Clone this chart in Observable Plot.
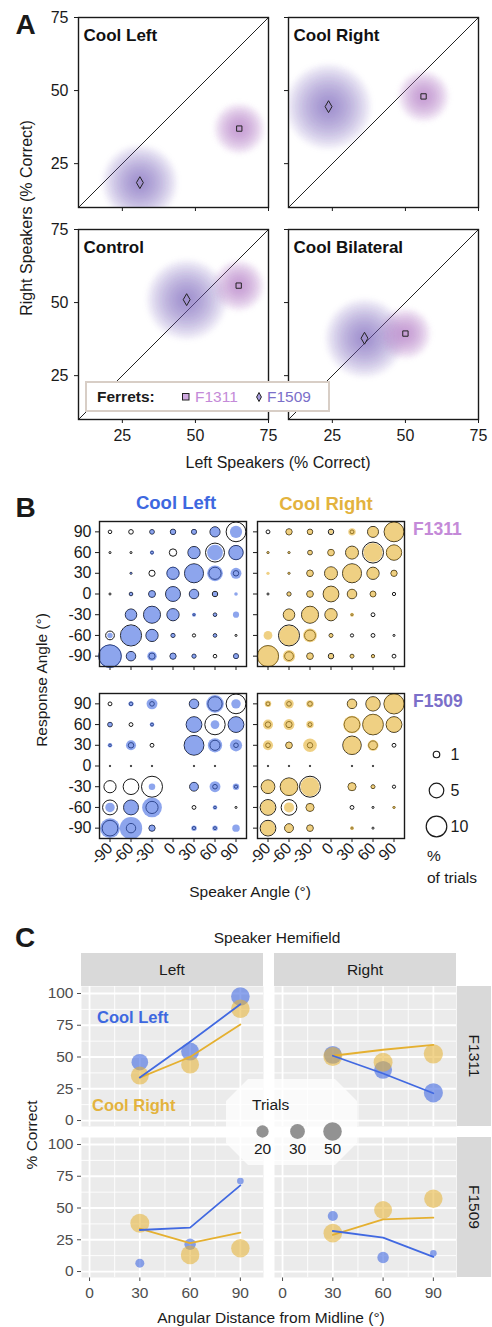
<!DOCTYPE html>
<html><head><meta charset="utf-8">
<script src="https://cdn.jsdelivr.net/npm/d3@7"></script>
<script src="https://cdn.jsdelivr.net/npm/@observablehq/plot@0.6"></script>
<style>
html,body{margin:0;padding:0;background:#fff;}
#root{position:relative;width:492px;height:1327px;overflow:hidden;font-family:"Liberation Sans",Arial,Helvetica,sans-serif;}
#root svg{overflow:visible;max-width:none;}
</style></head><body><div id="root"></div>
<script>
// ================= DATA =================
// ---- Panel A: bootstrapped % correct (left vs right speakers) ----
const conditionsA = ["Cool Left", "Cool Right", "Control", "Cool Bilateral"];
const f1311LeftSpk  = [65.0, 56.2, 64.8, 50.0];
const f1311RightSpk = [37.0, 48.0, 55.8, 39.4];
const f1509LeftSpk  = [31.0, 23.7, 47.0, 36.0];
const f1509RightSpk = [18.5, 44.5, 51.0, 37.8];
const f1311Spread = [2.9, 2.9, 2.9, 2.9];
const f1509Spread = [4.3, 4.9, 4.6, 4.5];
const domainA = [10, 75];
const ticksA = [25, 50, 75];
const ferretNames = ["F1311", "F1509"];

// ---- Panel B: % of trials, rows = response 90..-90, cols = speaker -90..90 ----
const speakerAngles = [-90, -60, -30, 0, 30, 60, 90];
const responseAngles = [90, 60, 30, 0, -30, -60, -90];
const f1311CoolLeft = [
  [0, 0, 0.5, 0.7, 0.6, 2.4, 3.5],
  [0, 0, 0.4, 0, 3.5, 5.8, 5.2],
  [0, 0.1, 0, 3.9, 8.5, 5.8, 2.8],
  [0, 0.3, 1.1, 5.2, 2.1, 0.5, 0.3],
  [0, 3.1, 6.8, 3.5, 0.4, 0.3, 0.9],
  [0.7, 10, 3.5, 0.4, 0, 0.3, 0],
  [13, 2.1, 2.1, 0.9, 0.4, 0, 0.6]];
const f1311CoolLeftCtrl = [
  [0.3, 0.5, 0.5, 0.7, 0.6, 2.4, 9.2],
  [0.1, 0.1, 0.2, 1.3, 3.5, 8.5, 4.8],
  [0, 0.1, 0.9, 3.5, 8.5, 3.5, 0.7],
  [0.1, 0.3, 1.1, 5.2, 2.1, 0.7, 0],
  [0, 3.1, 6.8, 3.5, 0.1, 0.3, 0],
  [1.8, 10.5, 3.5, 0.4, 0.25, 0.3, 0.1],
  [12, 2.1, 0.9, 0.9, 0.4, 0.3, 0.6]];
const f1311CoolRight = [
  [0, 0.9, 0.7, 0.4, 1.3, 2.8, 9.2],
  [0.15, 0.15, 0.5, 1.1, 3.9, 8.5, 5.8],
  [0.25, 0.15, 1.0, 3.9, 8.5, 3.5, 0.9],
  [0, 0.4, 1.0, 5.8, 2.1, 0.8, 0],
  [0, 3.1, 6.8, 3.5, 0.35, 0, 0],
  [1.8, 9.2, 4.4, 0.35, 0, 0, 0],
  [11, 3.5, 1.0, 0.5, 0.35, 0.25, 0]];
const f1311CoolRightCtrl = [
  [0.35, 0.9, 0.7, 0.7, 0.35, 2.8, 9.2],
  [0.1, 0.1, 0.5, 1.0, 3.9, 10.4, 5.5],
  [0, 0.1, 1.0, 3.9, 8.5, 3.5, 0.9],
  [0.1, 0.4, 1.0, 5.8, 2.1, 0.8, 0.25],
  [0, 3.1, 6.8, 3.5, 0.1, 0.35, 0],
  [0, 10.4, 2.8, 0.35, 0.25, 0.35, 0.1],
  [10.5, 1.8, 1.0, 0.7, 0.35, 0.25, 0.35]];
const f1509CoolLeft = [
  [0, 0.6, 2.8, 0, 2.1, 7.3, 2.1],
  [0.5, 0, 0.5, 0, 5.8, 1.8, 5.8],
  [0.5, 2.4, 0, 0, 9.2, 4.8, 3.5],
  [0, 0, 0, 0, 0, 0, 0],
  [0, 0, 1.0, 0, 1.8, 2.8, 1.0],
  [2.1, 5.2, 9.2, 0, 0, 0.5, 0],
  [9.2, 11.8, 0.9, 0, 0.7, 0.7, 1.3]];
const f1509CoolLeftCtrl = [
  [0.35, 0.3, 0.5, 0, 2.1, 4.8, 9.2],
  [0.5, 0.35, 0.2, 0, 5.8, 9.8, 5.8],
  [0.15, 0.7, 0.35, 0, 9.2, 2.4, 0.5],
  [0.05, 0.05, 0.05, 0, 0.05, 0.05, 0],
  [3.5, 5.8, 10.4, 0, 1.8, 0.5, 0.25],
  [5.2, 5.2, 3.5, 0, 0.35, 0.15, 0.1],
  [5.8, 2.1, 0.9, 0, 0.25, 0.2, 0]];
const f1509CoolRight = [
  [1.0, 2.1, 1.3, 0, 2.1, 4.8, 9.8],
  [2.4, 2.8, 1.3, 0, 7.3, 10.4, 5.8],
  [2.4, 1.0, 4.4, 0, 7.9, 2.8, 0],
  [0, 0, 0, 0, 0, 0, 0],
  [4.4, 7.3, 8.5, 0, 1.5, 0.4, 0],
  [5.2, 2.4, 1.5, 0, 0, 0, 0.2],
  [5.2, 1.8, 1.0, 0, 0.35, 0, 0]];
const f1509CoolRightCtrl = [
  [0.35, 0.5, 0.5, 0, 2.1, 4.8, 9.5],
  [0.7, 0.9, 0.35, 0, 5.8, 10, 5.8],
  [0.5, 1.0, 0.7, 0, 8, 1.8, 0.35],
  [0.05, 0.05, 0.05, 0, 0.05, 0.05, 0],
  [4.4, 7.3, 10.4, 0, 1.5, 0.35, 0.25],
  [5.8, 5.8, 1.5, 0, 0.35, 0.1, 0.1],
  [5.8, 1.8, 1.0, 0, 0.1, 0.1, 0]];
const sizeLegendB = [1, 5, 10];

// ---- Panel C: % correct by angular distance from midline ----
const distances = [30, 60, 90];
const cF1311LeftCoolLeft = [45.9, 54.3, 97.6];
const cF1311LeftCoolLeftN = [39, 46, 50];
const cF1311LeftCoolLeftFit = [33.8, 62, 91.5];
const cF1311LeftCoolRight = [35.4, 44, 88];
const cF1311LeftCoolRightN = [46, 46, 50];
const cF1311LeftCoolRightFit = [33.8, 50, 75.6];
const cF1311RightCoolLeft = [51.7, 39.9, 21.8];
const cF1311RightCoolLeftN = [46, 46, 53];
const cF1311RightCoolLeftFit = [51, 37, 21.5];
const cF1311RightCoolRight = [50.4, 45.9, 52.5];
const cF1311RightCoolRightN = [52, 52, 54];
const cF1311RightCoolRightFit = [51, 55.7, 59.6];
const cF1509LeftCoolLeft = [6.6, 21.5, 71.2];
const cF1509LeftCoolLeftN = [10, 17, 5];
const cF1509LeftCoolLeftFit = [32.7, 34.6, 67.8];
const cF1509LeftCoolRight = [38, 13.1, 18.3];
const cF1509LeftCoolRightN = [52, 50, 49];
const cF1509LeftCoolRightFit = [33.8, 22.3, 30.6];
const cF1509RightCoolLeft = [43.7, 11, 14.4];
const cF1509RightCoolLeftN = [13, 17, 5];
const cF1509RightCoolLeftFit = [31.9, 26.7, 11.5];
const cF1509RightCoolRight = [30.2, 48.4, 57.3];
const cF1509RightCoolRightN = [50, 46, 49];
const cF1509RightCoolRightFit = [28.8, 41.1, 42.4];
const majorX = [0, 30, 60, 90];
const minorX = [15, 45, 75];
const majorY = [0, 25, 50, 75, 100];
const minorY = [12.5, 37.5, 62.5, 87.5];
const trialsLegend = [20, 30, 50];

// ================= STYLE =================
const FONT = '"Liberation Sans", Arial, Helvetica, sans-serif';
const BLUE = "#4169e1";
const GOLD = "#e5b030";
const BLUE_T = "#3d68e0";
const GOLD_T = "#e3b33e";
const C1311 = "#c48ad8";
const C1509 = "#7b6fc9";
const CLOUD1311 = "#b47fcc";
const CLOUD1509 = "#6f62bd";
const root = document.getElementById("root");

function place(svg, frameLeft, frameTop, ml, mt) {
  const d = document.createElement("div");
  d.style.position = "absolute";
  d.style.left = (frameLeft - ml) + "px";
  d.style.top = (frameTop - mt) + "px";
  d.appendChild(svg);
  root.appendChild(d);
}
function label(str, x, y, o = {}) {
  const d = document.createElement("div");
  d.textContent = str;
  Object.assign(d.style, {
    position: "absolute", left: x + "px", top: y + "px", whiteSpace: "nowrap",
    fontFamily: FONT, fontSize: (o.size || 16) + "px", fontWeight: o.weight || "normal",
    color: o.color || "#1a1a1a", lineHeight: "1"
  });
  const ax = o.anchor === "start" ? "0" : o.anchor === "end" ? "-100%" : "-50%";
  d.style.transform = `translate(${ax}, -50%)` + (o.rotate ? ` rotate(${o.rotate}deg)` : "");
  root.appendChild(d);
  return d;
}
const baseStyle = {fontFamily: FONT, fontSize: "16px", color: "#1a1a1a", background: "transparent", overflow: "visible"};

// ================= PANEL A =================
const frameA = 190;
const pxA = frameA / (domainA[1] - domainA[0]);
const cloudLayers = [0.25, 0.5, 0.75, 1, 1.25, 1.5, 1.75, 2, 2.25, 2.5, 2.75, 3];
function panelA(i, showX, showY) {
  const ml = 40, mr = 6, mt = 4, mb = 30;
  const c1509 = {x: f1509LeftSpk[i], y: f1509RightSpk[i], s: f1509Spread[i]};
  const c1311 = {x: f1311LeftSpk[i], y: f1311RightSpk[i], s: f1311Spread[i]};
  const marks = [Plot.line(domainA, {x: d => d, y: d => d, stroke: "#222", strokeWidth: 1})];
  for (const k of cloudLayers) marks.push(Plot.dot([c1509], {x: "x", y: "y", r: c1509.s * k * pxA, fill: CLOUD1509, fillOpacity: 0.085, clip: true}));
  for (const k of cloudLayers) marks.push(Plot.dot([c1311], {x: "x", y: "y", r: c1311.s * k * pxA, fill: CLOUD1311, fillOpacity: 0.11, clip: true}));
  marks.push(Plot.dot([c1311], {x: "x", y: "y", symbol: "square", r: 3, stroke: "#222", strokeWidth: 1, fill: "none"}));
  marks.push(Plot.dot([c1509], {x: "x", y: "y", symbol: "diamond", r: 3.6, stroke: "#222", strokeWidth: 1, fill: "none"}));
  marks.push(Plot.text([conditionsA[i]], {text: d => d, frameAnchor: "top-left", dx: 5, dy: 11, fontWeight: "bold", fontSize: 17, textAnchor: "start", fill: "#111"}));
  marks.push(Plot.frame({stroke: "#1a1a1a", strokeWidth: 1.4}));
  const svg = Plot.plot({
    width: ml + frameA + mr, height: mt + frameA + mb,
    marginLeft: ml, marginRight: mr, marginTop: mt, marginBottom: mb,
    x: {domain: domainA, ticks: ticksA, tickSize: 4, tickPadding: 6, label: null, tickFormat: showX ? (d => d) : (() => "")},
    y: {domain: domainA, ticks: ticksA, tickSize: 4, tickPadding: 6, label: null, tickFormat: showY ? (d => d) : (() => "")},
    style: baseStyle, marks
  });
  // soften the bootstrap clouds
  svg.querySelectorAll(`g[fill="${CLOUD1509}"], g[fill="${CLOUD1311}"]`).forEach(g => { g.style.filter = "blur(2.5px)"; });
  return {svg, ml, mt};
}
[[0, 78, 17, false, true], [1, 288, 17, false, false], [2, 78, 229, true, true], [3, 288, 229, true, false]].forEach(([i, fx, fy, sx, sy]) => {
  const p = panelA(i, sx, sy);
  place(p.svg, fx, fy, p.ml, p.mt);
});
// Legend box for ferrets
(function () {
  const box = document.createElement("div");
  Object.assign(box.style, {position: "absolute", left: "85px", top: "381px", width: "245px", height: "31px",
    border: "2px solid #d8cec6", background: "#fff", boxSizing: "border-box"});
  root.appendChild(box);
  label("Ferrets:", 97, 397, {anchor: "start", weight: "bold", size: 15.5});
  const ns = "http://www.w3.org/2000/svg";
  function marker(x, y, shape, fill) {
    const s = document.createElementNS(ns, "svg");
    s.setAttribute("width", 12); s.setAttribute("height", 12);
    Object.assign(s.style, {position: "absolute", left: (x - 6) + "px", top: (y - 6) + "px"});
    const el = document.createElementNS(ns, shape === "square" ? "rect" : "polygon");
    if (shape === "square") { el.setAttribute("x", 2.5); el.setAttribute("y", 2.5); el.setAttribute("width", 6.5); el.setAttribute("height", 6.5); }
    else el.setAttribute("points", "6,1.5 8.4,6 6,10.5 3.6,6");
    el.setAttribute("fill", fill); el.setAttribute("stroke", "#222"); el.setAttribute("stroke-width", 1);
    s.appendChild(el); root.appendChild(s);
  }
  marker(186, 397, "square", "#cfa9e0");
  label(ferretNames[0], 195, 397, {anchor: "start", color: C1311, size: 15.5});
  marker(259, 397, "diamond", "#a79ce0");
  label(ferretNames[1], 267, 397, {anchor: "start", color: C1509, size: 15.5});
})();
label("A", 25.5, 25, {size: 28, weight: "bold"});
label("Right Speakers (% Correct)", 27, 218, {size: 16, rotate: -90});
label("Left Speakers (% Correct)", 278, 463, {size: 16});

// ================= PANEL B =================
const rScaleB = {type: "sqrt", domain: [0, 10], range: [0, 10.3]};
function cells(matrix) {
  const out = [];
  matrix.forEach((row, i) => row.forEach((v, j) => { if (v > 0) out.push({speaker: speakerAngles[j], response: responseAngles[i], pct: v}); }));
  return out;
}
function panelB(cool, ctrl, color, showX, showY) {
  const ml = 42, mr = 4, mt = 4, mb = 40, fw = 147, fh = 145;
  const svg = Plot.plot({
    width: ml + fw + mr, height: mt + fh + mb,
    marginLeft: ml, marginRight: mr, marginTop: mt, marginBottom: mb,
    x: {domain: [-105, 105], ticks: speakerAngles, tickSize: 4, tickPadding: 3, tickRotate: -45, label: null, tickFormat: showX ? (d => d) : (() => "")},
    y: {domain: [-105, 105], ticks: responseAngles, tickSize: 4, tickPadding: 4, label: null, tickFormat: showY ? (d => d) : (() => "")},
    r: rScaleB,
    style: baseStyle,
    marks: [
      Plot.dot(cells(ctrl), {x: "speaker", y: "response", r: "pct", stroke: "#1a1a1a", strokeWidth: 1, fill: "none"}),
      Plot.dot(cells(cool), {x: "speaker", y: "response", r: "pct", fill: color, fillOpacity: 0.6}),
      Plot.frame({stroke: "#1a1a1a", strokeWidth: 1.4})
    ]
  });
  return {svg, ml, mt};
}
[[f1311CoolLeft, f1311CoolLeftCtrl, BLUE, 99, 521, false, true],
 [f1311CoolRight, f1311CoolRightCtrl, GOLD, 257, 521, false, false],
 [f1509CoolLeft, f1509CoolLeftCtrl, BLUE, 99, 693, true, true],
 [f1509CoolRight, f1509CoolRightCtrl, GOLD, 257, 693, true, false]].forEach(([c, k, col, fx, fy, sx, sy]) => {
  const p = panelB(c, k, col, sx, sy);
  place(p.svg, fx, fy, p.ml, p.mt);
});
// size legend
(function () {
  const ml = 16, mt = 12;
  const svg = Plot.plot({
    width: 70, height: 97, marginLeft: ml, marginRight: 54, marginTop: mt, marginBottom: 12,
    y: {type: "point", domain: sizeLegendB, padding: 0, axis: null},
    r: rScaleB, style: baseStyle,
    marks: [
      Plot.dot(sizeLegendB, {y: d => d, r: d => d, frameAnchor: "left", stroke: "#1a1a1a", strokeWidth: 1.2, fill: "none"}),
      Plot.text(sizeLegendB, {y: d => d, text: d => d, frameAnchor: "left", dx: 14, textAnchor: "start", fontSize: 16, fill: "#1a1a1a"})
    ]
  });
  place(svg, 436, 753, ml, mt);
})();
label("B", 25.5, 507.5, {size: 28, weight: "bold"});
label("Cool Left", 176, 503, {size: 18.5, weight: "bold", color: BLUE_T});
label("Cool Right", 326, 504, {size: 18.5, weight: "bold", color: GOLD_T});
label(ferretNames[0], 413, 530, {anchor: "start", size: 17.5, weight: "bold", color: C1311});
label(ferretNames[1], 413, 702, {anchor: "start", size: 17.5, weight: "bold", color: C1509});
label("Response Angle (°)", 42, 680, {size: 15.5, rotate: -90});
label("Speaker Angle (°)", 250, 892, {size: 15.5});
label("%", 427, 856, {anchor: "start", size: 15.5});
label("of trials", 427, 878, {anchor: "start", size: 15.5});

// ================= PANEL C =================
const rScaleC = {type: "pow", exponent: 0.45, domain: [0, 50], range: [0, 9.3]};
function rowsC(obs, n, fit, cond) {
  return distances.map((d, i) => ({dist: d, pct: obs[i], n: n[i], fit: fit[i], cond}));
}
function panelC(blueRows, goldRows, showX, showY) {
  const ml = 40, mr = 2, mt = 2, mb = 36, fw = 182, fh = 140;
  const svg = Plot.plot({
    width: ml + fw + mr, height: mt + fh + mb,
    marginLeft: ml, marginRight: mr, marginTop: mt, marginBottom: mb,
    x: {domain: [-4.8, 103.8], ticks: majorX, tickSize: 4, tickPadding: 5, label: null, axis: showX ? "bottom" : null},
    y: {domain: [-4.7, 105.5], ticks: majorY, tickSize: 4, tickPadding: 4, label: null, axis: showY ? "left" : null},
    r: rScaleC,
    style: {...baseStyle, fontSize: "15.5px", color: "#4d4d4d"},
    marks: [
      Plot.frame({fill: "#ebebeb", stroke: "none"}),
      Plot.ruleX(minorX, {x: d => d, stroke: "#fff", strokeWidth: 0.9}),
      Plot.ruleY(minorY, {y: d => d, stroke: "#fff", strokeWidth: 0.9}),
      Plot.ruleX(majorX, {x: d => d, stroke: "#fff", strokeWidth: 1.8}),
      Plot.ruleY(majorY, {y: d => d, stroke: "#fff", strokeWidth: 1.8}),
      Plot.dot(blueRows, {x: "dist", y: "pct", r: "n", fill: BLUE, fillOpacity: 0.6}),
      Plot.dot(goldRows, {x: "dist", y: "pct", r: "n", fill: GOLD, fillOpacity: 0.55}),
      Plot.line(goldRows, {x: "dist", y: "fit", stroke: GOLD, strokeWidth: 1.8}),
      Plot.line(blueRows, {x: "dist", y: "fit", stroke: BLUE, strokeWidth: 1.8})
    ]
  });
  return {svg, ml, mt};
}
[
  [rowsC(cF1311LeftCoolLeft, cF1311LeftCoolLeftN, cF1311LeftCoolLeftFit), rowsC(cF1311LeftCoolRight, cF1311LeftCoolRightN, cF1311LeftCoolRightFit), 81, 986, false, true],
  [rowsC(cF1311RightCoolLeft, cF1311RightCoolLeftN, cF1311RightCoolLeftFit), rowsC(cF1311RightCoolRight, cF1311RightCoolRightN, cF1311RightCoolRightFit), 274, 986, false, false],
  [rowsC(cF1509LeftCoolLeft, cF1509LeftCoolLeftN, cF1509LeftCoolLeftFit), rowsC(cF1509LeftCoolRight, cF1509LeftCoolRightN, cF1509LeftCoolRightFit), 81, 1137, true, true],
  [rowsC(cF1509RightCoolLeft, cF1509RightCoolLeftN, cF1509RightCoolLeftFit), rowsC(cF1509RightCoolRight, cF1509RightCoolRightN, cF1509RightCoolRightFit), 274, 1137, true, false]
].forEach(([b, g, fx, fy, sx, sy]) => {
  const p = panelC(b, g, sx, sy);
  place(p.svg, fx, fy, p.ml, p.mt);
});
// strips
function strip(str, left, top, w, h, rotate) {
  const d = document.createElement("div");
  Object.assign(d.style, {position: "absolute", left: left + "px", top: top + "px", width: w + "px", height: h + "px", background: "#d9d9d9"});
  root.appendChild(d);
  label(str, left + w / 2, top + h / 2, {size: 15.5, rotate, color: "#1a1a1a"});
}
strip("Left", 81, 953, 182, 33);
strip("Right", 274, 953, 182, 33);
strip(ferretNames[0], 457, 986, 34, 140, 90);
strip(ferretNames[1], 457, 1137, 34, 140, 90);
// trials legend
(function () {
  const bg = document.createElement("div");
  Object.assign(bg.style, {position: "absolute", left: "226px", top: "1079px", width: "131px", height: "86px",
    background: "rgba(255,255,255,0.72)",
    clipPath: "polygon(22px 0, calc(100% - 22px) 0, 100% 22px, 100% calc(100% - 22px), calc(100% - 22px) 100%, 22px 100%, 0 calc(100% - 22px), 0 22px)"});
  root.appendChild(bg);
  label("Trials", 252, 1105, {anchor: "start", size: 15.5});
  const ml = 20, mt = 10;
  const svg = Plot.plot({
    width: 111, height: 40, marginLeft: ml, marginRight: 20, marginTop: mt, marginBottom: 30,
    x: {type: "point", domain: trialsLegend, padding: 0, axis: null},
    r: rScaleC, style: {...baseStyle, fontSize: "15.5px"},
    marks: [
      Plot.dot(trialsLegend, {x: d => d, r: d => d, fill: "#7f7f7f", fillOpacity: 0.85}),
      Plot.text(trialsLegend, {x: d => d, text: d => d, dy: 18, fontSize: 15.5, fill: "#1a1a1a"})
    ]
  });
  place(svg, 261, 1131, ml, mt);
})();
label("Cool Left", 97, 1017, {anchor: "start", size: 16.5, weight: "bold", color: BLUE_T});
label("Cool Right", 92, 1105, {anchor: "start", size: 16.5, weight: "bold", color: GOLD_T});
label("C", 25, 937.5, {size: 28, weight: "bold"});
label("Speaker Hemifield", 277, 938, {size: 15.5});
label("% Correct", 32, 1135, {size: 15.5, rotate: -90});
label("Angular Distance from Midline (°)", 271, 1318, {size: 15.5});
</script></body></html>
